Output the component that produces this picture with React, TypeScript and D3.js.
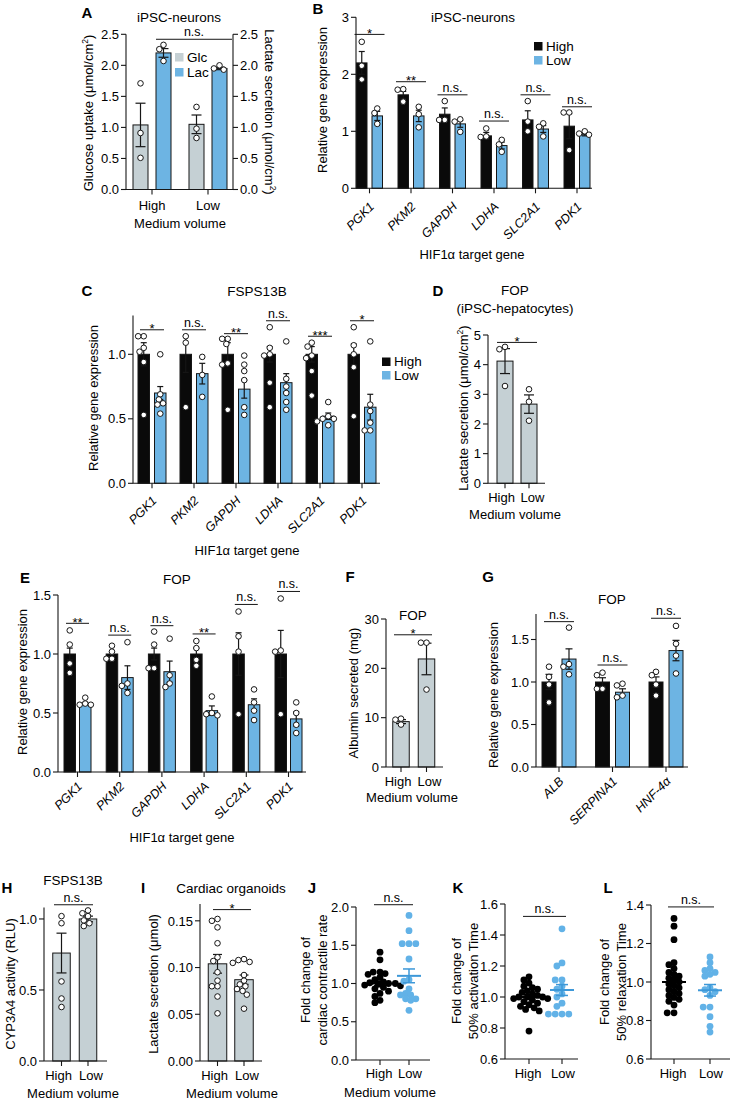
import React from "react";
import * as d3 from "d3";

type Lin = d3.ScaleLinear<number, number>;
type Band = d3.ScaleBand<string>;

const FONT = "'Liberation Sans', Arial, Helvetica, sans-serif";
const INK = "#161616";
const C_BLACK = "#0a0a0a";
const C_BLUE = "#6db4e3";
const C_GREY = "#c5d0d4";
const C_DOT_BLUE = "#62b2e7";
const C_LINE_BLUE = "#3d98d8";

// ---------- shared categories ----------
const volumes = ["High", "Low"];
const hifGenes = ["PGK1", "PKM2", "GAPDH", "LDHA", "SLC2A1", "PDK1"];
const hepGenes = ["ALB", "SERPINA1", "HNF-4α"];

// ---------- Panel A ----------
const aSeries = ["Glc", "Lac"];
const aTicks = [0, 0.5, 1, 1.5, 2, 2.5];
const aGlcMean = [1.04, 1.05];
const aGlcSem = [0.35, 0.15];
const aGlcPts = [[1.71, 0.91, 0.51], [1.33, 0.98, 0.83]];
const aLacMean = [2.2, 1.95];
const aLacSem = [0.07, 0.02];
const aLacPts = [[2.33, 2.26, 2.07], [2.0, 1.95, 1.93]];
const aSigLevel = 2.42;
const aSigLabel = "n.s.";

// ---------- Panel B ----------
const bTicks = [0, 1, 2, 3];
const bHighMean = [2.2, 1.64, 1.3, 0.92, 1.2, 1.09];
const bHighSem = [0.2, 0.06, 0.11, 0.06, 0.16, 0.22];
const bHighPts = [[2.57, 2.15, 1.91], [1.74, 1.73, 1.52], [1.53, 1.2, 1.2], [1.05, 0.91, 0.9], [1.53, 1.17, 1.0], [1.33, 1.33, 0.67]];
const bLowMean = [1.27, 1.27, 1.13, 0.75, 1.04, 0.94];
const bLowSem = [0.08, 0.1, 0.06, 0.06, 0.06, 0.02];
const bLowPts = [[1.4, 1.32, 1.13], [1.43, 1.3, 1.07], [1.21, 1.17, 0.99], [0.85, 0.77, 0.64], [1.14, 1.08, 0.91], [1.0, 0.96, 0.94]];
const bSigLevel = [2.7, 1.87, 1.64, 1.18, 1.64, 1.43];
const bSigLabel = ["*", "**", "n.s.", "n.s.", "n.s.", "n.s."];

// ---------- Panel C ----------
const cTicks = [0, 0.5, 1.0];
const cHighMean = [1.0, 1.0, 1.0, 1.0, 1.0, 1.0];
const cHighSem = [0.09, 0.14, 0.09, 0.06, 0.06, 0.08];
const cHighPts = [
  [1.14, 1.14, 1.05, 1.02, 0.94, 0.53],
  [1.14, 1.09, 0.59],
  [1.12, 1.12, 1.08, 0.93, 0.92, 0.57],
  [1.21, 1.05, 1.0, 0.99, 0.78, 0.59],
  [1.09, 1.06, 0.99, 0.97, 0.87, 0.68],
  [1.21, 1.07, 1.0, 0.9, 0.52],
];
const cLowMean = [0.7, 0.85, 0.73, 0.78, 0.52, 0.59];
const cLowSem = [0.05, 0.08, 0.07, 0.07, 0.025, 0.1];
const cLowPts = [
  [1.0, 0.69, 0.65, 0.62, 0.61, 0.54],
  [0.98, 0.84, 0.67],
  [0.99, 0.92, 0.87, 0.8, 0.59, 0.53],
  [1.1, 0.81, 0.75, 0.7, 0.63, 0.57],
  [0.63, 0.52, 0.5, 0.5, 0.48, 0.45],
  [1.1, 0.61, 0.56, 0.47, 0.41, 0.41],
];
const cSigLevel = [1.19, 1.19, 1.16, 1.26, 1.14, 1.26];
const cSigLabel = ["*", "n.s.", "**", "n.s.", "***", "*"];

// ---------- Panel D ----------
const dTicks = [0, 1, 2, 3, 4, 5];
const dMean = [4.12, 2.67];
const dSem = [0.42, 0.31];
const dPts = [[4.6, 4.52, 3.28], [3.17, 2.75, 2.11]];
const dSigLevel = 4.75;
const dSigLabel = "*";

// ---------- Panel E ----------
const eTicks = [0, 0.5, 1.0, 1.5];
const eHighMean = [1, 1, 1, 1, 1, 1];
const eHighSem = [0.05, 0.02, 0.05, 0.05, 0.18, 0.2];
const eHighPts = [[1.2, 1.08, 0.92, 0.84], [1.07, 1.02, 0.96, 0.96], [1.19, 1.08, 0.88, 0.88], [1.11, 1.05, 0.95, 0.9], [1.36, 1.15, 1.02, 0.49], [1.47, 1.03, 1.02, 0.49]];
const eLowMean = [0.58, 0.8, 0.85, 0.52, 0.57, 0.45];
const eLowSem = [0.01, 0.1, 0.09, 0.04, 0.05, 0.06];
const eLowPts = [[0.63, 0.58, 0.57, 0.57], [1.1, 0.75, 0.73, 0.67], [1.13, 0.82, 0.75, 0.72], [0.64, 0.5, 0.49, 0.48], [0.7, 0.59, 0.52, 0.44], [0.59, 0.5, 0.4, 0.33]];
const eSigLevel = [1.26, 1.16, 1.24, 1.17, 1.42, 1.53];
const eSigLabel = ["**", "n.s.", "n.s.", "**", "n.s.", "n.s."];

// ---------- Panel F ----------
const fTicks = [0, 10, 20, 30];
const fMean = [9.2, 21.9];
const fSem = [0.4, 3.2];
const fPts = [[9.8, 9.6, 8.6], [25.2, 25.2, 15.7]];
const fSigLevel = 26.8;
const fSigLabel = "*";

// ---------- Panel G ----------
const gTicks = [0, 0.5, 1.0, 1.5];
const gHighMean = [1.0, 1.0, 1.0];
const gHighSem = [0.09, 0.05, 0.06];
const gHighPts = [[1.18, 1.06, 0.97, 0.76], [1.11, 1.08, 0.92, 0.92], [1.12, 1.08, 0.97, 0.84]];
const gLowMean = [1.27, 0.88, 1.37];
const gLowSem = [0.12, 0.04, 0.12];
const gLowPts = [[1.64, 1.21, 1.18, 1.09], [0.98, 0.96, 0.84, 0.82], [1.66, 1.45, 1.31, 1.1]];
const gSigLevel = [1.71, 1.2, 1.75];
const gSigLabel = ["n.s.", "n.s.", "n.s."];

// ---------- Panel H ----------
const hTicks = [0, 0.5, 1.0];
const hMean = [0.76, 1.0];
const hSem = [0.14, 0.02];
const hPts = [[1.02, 0.97, 0.56, 0.44, 0.38], [1.06, 1.04, 1.02, 0.99, 0.97, 0.95]];
const hSigLevel = 1.1;
const hSigLabel = "n.s.";

// ---------- Panel I ----------
const iTicks = [0, 0.05, 0.1, 0.15];
const iMean = [0.104, 0.087];
const iSem = [0.01, 0.005];
const iPts = [
  [0.152, 0.15, 0.143, 0.126, 0.111, 0.107, 0.095, 0.086, 0.08, 0.08, 0.069, 0.051],
  [0.109, 0.108, 0.106, 0.105, 0.092, 0.086, 0.082, 0.08, 0.077, 0.075, 0.071, 0.056],
];
const iSigLevel = 0.162;
const iSigLabel = "*";

// ---------- Panel J ----------
const jTicks = [0, 0.5, 1.0, 1.5, 2.0];
const jHighPts = [1.41, 1.31, 1.15, 1.15, 1.13, 1.12, 1.08, 1.05, 1.02, 1.01, 1.0, 1.0, 0.99, 0.98, 0.97, 0.95, 0.93, 0.9, 0.87, 0.83, 0.78, 0.75];
const jLowPts = [1.89, 1.69, 1.52, 1.52, 1.52, 1.32, 1.05, 1.03, 0.93, 0.87, 0.85, 0.85, 0.8, 0.8, 0.78, 0.65];
const jMean = [1.0, 1.1];
const jSem = [0.03, 0.09];
const jSigLevel = 2.03;

// ---------- Panel K ----------
const kTicks = [0.6, 0.8, 1.0, 1.2, 1.4, 1.6];
const kHighPts = [1.13, 1.11, 1.09, 1.07, 1.06, 1.05, 1.04, 1.03, 1.02, 1.01, 1.0, 1.0, 1.0, 0.99, 0.99, 0.98, 0.97, 0.96, 0.95, 0.94, 0.93, 0.92, 0.91, 0.78];
const kLowPts = [1.44, 1.22, 1.2, 1.11, 1.11, 1.07, 1.05, 1.02, 1.0, 0.96, 0.94, 0.89, 0.89, 0.89, 0.89];
const kMean = [1.0, 1.045];
const kSem = [0.015, 0.035];
const kSigLevel = 1.52;

// ---------- Panel L ----------
const lTicks = [0.6, 0.8, 1.0, 1.2, 1.4];
const lHighPts = [1.33, 1.29, 1.22, 1.1, 1.09, 1.07, 1.05, 1.04, 1.03, 1.02, 1.01, 1.0, 0.99, 0.98, 0.97, 0.96, 0.95, 0.94, 0.93, 0.92, 0.91, 0.9, 0.88, 0.84, 0.84];
const lLowPts = [1.13, 1.1, 1.07, 1.06, 1.05, 1.04, 1.03, 0.97, 0.96, 0.95, 0.93, 0.87, 0.87, 0.82, 0.77, 0.74];
const lMean = [1.0, 0.957];
const lSem = [0.022, 0.03];
const lSigLevel = 1.39;

// ---------- helpers ----------
function mkBand(domain: string[], c0: number, step: number, bw: number): Band {
  const p = 1 - bw / step;
  const r0 = c0 - (step * (1 + p)) / 2;
  const r1 = r0 + step * (domain.length + p);
  return d3.scaleBand<string>().domain(domain).range([r0, r1]).paddingInner(p).paddingOuter(p).align(0.5);
}
const mid = (s: Band, k: string) => (s(k) as number) + s.bandwidth() / 2;

function swarm(vals: number[], y: Lin, r: number, gapF: number): number[] {
  const placed: [number, number][] = [];
  const offs = vals.map(() => 0);
  const order = d3.range(vals.length).sort((a, b) => d3.descending(vals[a], vals[b]));
  const step = r * 0.5;
  for (const i of order) {
    const yy = y(vals[i]);
    for (let k = 0; k < 400; k++) {
      const m = Math.ceil(k / 2) * (k % 2 ? -1 : 1);
      const xx = m * step;
      if (placed.every(([px, py]) => Math.hypot(px - xx, py - yy) >= gapF * r)) {
        offs[i] = xx;
        placed.push([xx, yy]);
        break;
      }
    }
  }
  return offs;
}

function BarMark({ cx, w, y, mean, sem, pts, fill, cap, r }: any) {
  const offs = swarm(pts, y, r, 1.9);
  const yt = y(mean + sem);
  const yb = y(mean - sem);
  return (
    <g>
      <rect x={cx - w / 2} y={y(mean)} width={w} height={y(0) - y(mean)} fill={fill} stroke={INK} strokeWidth={1} />
      <line x1={cx} x2={cx} y1={yb} y2={yt} stroke={INK} strokeWidth={1.2} />
      <line x1={cx - cap / 2} x2={cx + cap / 2} y1={yt} y2={yt} stroke={INK} strokeWidth={1.2} />
      <line x1={cx - cap / 2} x2={cx + cap / 2} y1={yb} y2={yb} stroke={INK} strokeWidth={1.2} />
      {pts.map((v: number, i: number) => (
        <circle key={i} cx={cx + offs[i]} cy={y(v)} r={r} fill="#fff" stroke={INK} strokeWidth={1} />
      ))}
    </g>
  );
}

function GroupBars({ cats, outer, inner, y, series, cap, r }: any) {
  return (
    <g>
      {cats.map((c: string, ci: number) =>
        series.map((s: any) => {
          const cx = mid(outer, c) + (inner(s.name) as number) + inner.bandwidth() / 2;
          return (
            <BarMark key={c + s.name} cx={cx} w={inner.bandwidth()} y={y} mean={s.mean[ci]} sem={s.sem[ci]}
              pts={s.pts[ci]} fill={s.fill} cap={cap} r={r} />
          );
        })
      )}
    </g>
  );
}

function SingleBars({ cats, outer, y, mean, sem, pts, fill, cap, r }: any) {
  return (
    <g>
      {cats.map((c: string, i: number) => (
        <BarMark key={c} cx={mid(outer, c)} w={outer.bandwidth()} y={y} mean={mean[i]} sem={sem[i]} pts={pts[i]}
          fill={fill} cap={cap} r={r} />
      ))}
    </g>
  );
}

function ScatterGroup({ cx, y, pts, fill, line, mean, sem }: any) {
  const r = 3.4;
  const offs = swarm(pts, y, r, 1.55);
  const yt = y(mean + sem);
  const yb = y(mean - sem);
  return (
    <g>
      {pts.map((v: number, i: number) => (
        <circle key={i} cx={cx + offs[i]} cy={y(v)} r={r} fill={fill} />
      ))}
      <line x1={cx - 12} x2={cx + 12} y1={y(mean)} y2={y(mean)} stroke={line} strokeWidth={2} />
      <line x1={cx} x2={cx} y1={yb} y2={yt} stroke={line} strokeWidth={1.5} />
      <line x1={cx - 6} x2={cx + 6} y1={yt} y2={yt} stroke={line} strokeWidth={1.5} />
      <line x1={cx - 6} x2={cx + 6} y1={yb} y2={yb} stroke={line} strokeWidth={1.5} />
    </g>
  );
}

function YAxis({ x, y, ticks, fmt, side = "left" }: any) {
  const [r0, r1] = y.range();
  const dir = side === "left" ? -1 : 1;
  return (
    <g>
      <line x1={x} x2={x} y1={r0} y2={r1} stroke={INK} strokeWidth={1.1} />
      {ticks.map((t: number) => (
        <g key={t}>
          <line x1={x} x2={x + dir * 5} y1={y(t)} y2={y(t)} stroke={INK} strokeWidth={1.1} />
          <text x={x + dir * 7} y={y(t)} dy="0.36em" textAnchor={side === "left" ? "end" : "start"} fontSize={13}>
            {fmt(t)}
          </text>
        </g>
      ))}
    </g>
  );
}

function XAxis({ x0, x1, y, ticks }: any) {
  return (
    <g>
      <line x1={x0} x2={x1} y1={y} y2={y} stroke={INK} strokeWidth={1.1} />
      {ticks.map((t: number, i: number) => (
        <line key={i} x1={t} x2={t} y1={y} y2={y + 5} stroke={INK} strokeWidth={1.1} />
      ))}
    </g>
  );
}

function Sig({ x1, x2, y, label }: any) {
  const star = label.includes("*");
  return (
    <g>
      <line x1={x1} x2={x2} y1={y} y2={y} stroke={INK} strokeWidth={1} />
      <text x={(x1 + x2) / 2} y={star ? y + 3.5 : y - 3} textAnchor="middle" fontSize={star ? 13 : 12.5}>
        {label}
      </text>
    </g>
  );
}

function RotLabels({ cats, xs, y, dy = 15 }: any) {
  return (
    <g>
      {cats.map((c: string, i: number) => (
        <text key={c} transform={`translate(${xs[i] + 5.5},${y + dy}) rotate(-45)`} textAnchor="end" fontSize={12.5}
          fontStyle="italic">
          {c}
        </text>
      ))}
    </g>
  );
}

function Letter({ x, y, t }: any) {
  return (
    <text x={x} y={y + 5.3} textAnchor="middle" fontSize={15} fontWeight="bold">
      {t}
    </text>
  );
}

function Label({ x, y, children, size = 13 }: any) {
  return (
    <text x={x} y={y + 4.6} textAnchor="middle" fontSize={size}>
      {children}
    </text>
  );
}

function VLabel({ x, y, children, rot = -90 }: any) {
  return (
    <text transform={`translate(${x},${y}) rotate(${rot})`} dy="0.36em" textAnchor="middle" fontSize={13}>
      {children}
    </text>
  );
}

function Legend({ x, y, items, gap }: any) {
  return (
    <g>
      {items.map(([name, col]: [string, string], i: number) => (
        <g key={name}>
          <rect x={x} y={y + i * gap} width={8.5} height={8.5} fill={col} />
          <text x={x + 12} y={y + i * gap + 8.8} fontSize={13.5}>
            {name}
          </text>
        </g>
      ))}
    </g>
  );
}

// High / Low labels under narrow two-bar panels, nudged apart so they do not touch
function VolLabels({ outer, y, spread = 3.5 }: any) {
  return (
    <g>
      {volumes.map((v, i) => (
        <Label key={v} x={mid(outer, v) + (i === 0 ? -spread : spread)} y={y}>{v}</Label>
      ))}
    </g>
  );
}

const Sup2 = () => (
  <>
    <tspan dy="-5" fontSize={8.5}>2</tspan>
    <tspan dy="5">)</tspan>
  </>
);

// ---------- panels ----------
function PanelA() {
  const y = d3.scaleLinear().domain([0, 2.5]).range([189.5, 34.3]);
  const outer = mkBand(volumes, 152, 56, 56);
  const inner = mkBand(aSeries, -11.5, 23, 15);
  const series = [
    { name: "Glc", fill: C_GREY, mean: aGlcMean, sem: aGlcSem, pts: aGlcPts },
    { name: "Lac", fill: C_BLUE, mean: aLacMean, sem: aLacSem, pts: aLacPts },
  ];
  const xL = 126, xR = 233;
  const f = d3.format(".1f");
  return (
    <g>
      <Letter x={87} y={13} t="A" />
      <Label x={179} y={17} size={13.5}>iPSC-neurons</Label>
      <GroupBars cats={volumes} outer={outer} inner={inner} y={y} series={series} cap={10} r={2.8} />
      <XAxis x0={xL} x1={xR} y={y(0)} ticks={volumes.map((v) => mid(outer, v))} />
      <YAxis x={xL} y={y} ticks={aTicks} fmt={f} />
      <YAxis x={xR} y={y} ticks={aTicks} fmt={f} side="right" />
      <Sig x1={156} x2={232} y={y(aSigLevel)} label={aSigLabel} />
      <Legend x={175} y={53} items={[["Glc", C_GREY], ["Lac", C_BLUE]]} gap={15} />
      <VolLabels outer={outer} y={205} spread={0} />
      <Label x={180} y={223}>Medium volume</Label>
      <VLabel x={88} y={113}>
        Glucose uptake (μmol/cm<Sup2 />
      </VLabel>
      <VLabel x={270} y={112} rot={90}>
        Lactate secretion (μmol/cm<Sup2 />
      </VLabel>
    </g>
  );
}

function PanelB() {
  const y = d3.scaleLinear().domain([0, 3]).range([188.3, 17.3]);
  const outer = mkBand(hifGenes, 369.5, 41.5, 41.5);
  const inner = mkBand(volumes, -7.75, 15.5, 10.5);
  const series = [
    { name: "High", fill: C_BLACK, mean: bHighMean, sem: bHighSem, pts: bHighPts },
    { name: "Low", fill: C_BLUE, mean: bLowMean, sem: bLowSem, pts: bLowPts },
  ];
  const xs = hifGenes.map((g) => mid(outer, g));
  return (
    <g>
      <Letter x={318} y={9} t="B" />
      <Label x={473} y={17} size={13.5}>iPSC-neurons</Label>
      <GroupBars cats={hifGenes} outer={outer} inner={inner} y={y} series={series} cap={6} r={2.8} />
      <XAxis x0={356} x1={592} y={y(0)} ticks={xs} />
      <YAxis x={356} y={y} ticks={bTicks} fmt={d3.format("d")} />
      {hifGenes.map((g, i) => (
        <Sig key={g} x1={xs[i] - 15} x2={xs[i] + 15} y={y(bSigLevel[i])} label={bSigLabel[i]} />
      ))}
      <Legend x={534} y={42} items={[["High", C_BLACK], ["Low", C_BLUE]]} gap={14} />
      <RotLabels cats={hifGenes} xs={xs} y={y(0)} dy={19} />
      <Label x={472} y={254}>HIF1α target gene</Label>
      <VLabel x={322} y={100}>Relative gene expression</VLabel>
    </g>
  );
}

function PanelC() {
  const y = d3.scaleLinear().domain([0, 1.3]).range([483.3, 315.6]);
  const outer = mkBand(hifGenes, 152, 42, 42);
  const inner = mkBand(volumes, -8.25, 16.5, 11.5);
  const series = [
    { name: "High", fill: C_BLACK, mean: cHighMean, sem: cHighSem, pts: cHighPts },
    { name: "Low", fill: C_BLUE, mean: cLowMean, sem: cLowSem, pts: cLowPts },
  ];
  const xs = hifGenes.map((g) => mid(outer, g));
  return (
    <g>
      <Letter x={87} y={291} t="C" />
      <Label x={257} y={291} size={13.5}>FSPS13B</Label>
      <GroupBars cats={hifGenes} outer={outer} inner={inner} y={y} series={series} cap={6} r={2.8} />
      <XAxis x0={133} x1={380} y={y(0)} ticks={xs} />
      <YAxis x={133} y={y} ticks={cTicks} fmt={d3.format(".1f")} />
      {hifGenes.map((g, i) => (
        <Sig key={g} x1={xs[i] - 12} x2={xs[i] + 12} y={y(cSigLevel[i])} label={cSigLabel[i]} />
      ))}
      <Legend x={382} y={357.5} items={[["High", C_BLACK], ["Low", C_BLUE]]} gap={13.5} />
      <RotLabels cats={hifGenes} xs={xs} y={y(0)} dy={18} />
      <Label x={247} y={550}>HIF1α target gene</Label>
      <VLabel x={93} y={398}>Relative gene expression</VLabel>
    </g>
  );
}

function PanelD() {
  const y = d3.scaleLinear().domain([0, 5]).range([483.3, 335]);
  const outer = mkBand(volumes, 505, 24, 16);
  return (
    <g>
      <Letter x={438} y={291} t="D" />
      <Label x={515} y={290} size={13.5}>FOP</Label>
      <Label x={515} y={308} size={13.5}>(iPSC-hepatocytes)</Label>
      <SingleBars cats={volumes} outer={outer} y={y} mean={dMean} sem={dSem} pts={dPts} fill={C_GREY} cap={10} r={2.8} />
      <XAxis x0={488} x1={545} y={y(0)} ticks={volumes.map((v) => mid(outer, v))} />
      <YAxis x={488} y={y} ticks={dTicks} fmt={d3.format("d")} />
      <Sig x1={497} x2={537} y={y(dSigLevel)} label={dSigLabel} />
      <VolLabels outer={outer} y={497} />
      <Label x={515} y={514}>Medium volume</Label>
      <VLabel x={463} y={408}>
        Lactate secretion (μmol/cm<Sup2 />
      </VLabel>
    </g>
  );
}

function PanelE() {
  const y = d3.scaleLinear().domain([0, 1.5]).range([772, 595]);
  const outer = mkBand(hifGenes, 77.5, 42.2, 42.2);
  const inner = mkBand(volumes, -7.75, 15.5, 11.5);
  const series = [
    { name: "High", fill: C_BLACK, mean: eHighMean, sem: eHighSem, pts: eHighPts },
    { name: "Low", fill: C_BLUE, mean: eLowMean, sem: eLowSem, pts: eLowPts },
  ];
  const xs = hifGenes.map((g) => mid(outer, g));
  return (
    <g>
      <Letter x={25} y={578} t="E" />
      <Label x={177} y={579} size={13.5}>FOP</Label>
      <GroupBars cats={hifGenes} outer={outer} inner={inner} y={y} series={series} cap={6} r={2.8} />
      <XAxis x0={58} x1={306} y={y(0)} ticks={xs} />
      <YAxis x={58} y={y} ticks={eTicks} fmt={d3.format(".1f")} />
      {hifGenes.map((g, i) => (
        <Sig key={g} x1={xs[i] - 11.5} x2={xs[i] + 11.5} y={y(eSigLevel[i])} label={eSigLabel[i]} />
      ))}
      <RotLabels cats={hifGenes} xs={xs} y={y(0)} dy={15} />
      <Label x={182} y={837}>HIF1α target gene</Label>
      <VLabel x={22} y={682}>Relative gene expression</VLabel>
    </g>
  );
}

function PanelF() {
  const y = d3.scaleLinear().domain([0, 30]).range([767, 619]);
  const outer = mkBand(volumes, 401, 25.5, 16.5);
  return (
    <g>
      <Letter x={350} y={577} t="F" />
      <Label x={413} y={615} size={13.5}>FOP</Label>
      <SingleBars cats={volumes} outer={outer} y={y} mean={fMean} sem={fSem} pts={fPts} fill={C_GREY} cap={10} r={2.8} />
      <XAxis x0={386} x1={443} y={y(0)} ticks={volumes.map((v) => mid(outer, v))} />
      <YAxis x={386} y={y} ticks={fTicks} fmt={d3.format("d")} />
      <Sig x1={394} x2={432} y={y(fSigLevel)} label={fSigLabel} />
      <VolLabels outer={outer} y={781} spread={3} />
      <Label x={412} y={797}>Medium volume</Label>
      <VLabel x={353} y={693}>Albumin secreted (mg)</VLabel>
    </g>
  );
}

function PanelG() {
  const y = d3.scaleLinear().domain([0, 1.8]).range([767, 614]);
  const outer = mkBand(hepGenes, 559, 53.5, 53.5);
  const inner = mkBand(volumes, -10, 20, 14);
  const series = [
    { name: "High", fill: C_BLACK, mean: gHighMean, sem: gHighSem, pts: gHighPts },
    { name: "Low", fill: C_BLUE, mean: gLowMean, sem: gLowSem, pts: gLowPts },
  ];
  const xs = hepGenes.map((g) => mid(outer, g));
  return (
    <g>
      <Letter x={488} y={577} t="G" />
      <Label x={612} y={599} size={13.5}>FOP</Label>
      <GroupBars cats={hepGenes} outer={outer} inner={inner} y={y} series={series} cap={7} r={2.8} />
      <XAxis x0={536} x1={688} y={y(0)} ticks={xs} />
      <YAxis x={536} y={y} ticks={gTicks} fmt={d3.format(".1f")} />
      {hepGenes.map((g, i) => (
        <Sig key={g} x1={xs[i] - 15} x2={xs[i] + 15} y={y(gSigLevel[i])} label={gSigLabel[i]} />
      ))}
      <RotLabels cats={hepGenes} xs={xs} y={y(0)} dy={15} />
      <VLabel x={493} y={695}>Relative gene expression</VLabel>
    </g>
  );
}

function PanelH() {
  const y = d3.scaleLinear().domain([0, 1.08]).range([1061, 907.6]);
  const outer = mkBand(volumes, 61.5, 26.5, 17.5);
  return (
    <g>
      <Letter x={7} y={888} t="H" />
      <Label x={73} y={880} size={13.5}>FSPS13B</Label>
      <SingleBars cats={volumes} outer={outer} y={y} mean={hMean} sem={hSem} pts={hPts} fill={C_GREY} cap={10} r={2.8} />
      <XAxis x0={44} x1={107} y={y(0)} ticks={volumes.map((v) => mid(outer, v))} />
      <YAxis x={44} y={y} ticks={hTicks} fmt={d3.format(".1f")} />
      <Sig x1={54} x2={93} y={y(hSigLevel)} label={hSigLabel} />
      <VolLabels outer={outer} y={1075} spread={3} />
      <Label x={73} y={1093}>Medium volume</Label>
      <VLabel x={10} y={984}>CYP3A4 activity (RLU)</VLabel>
    </g>
  );
}

function PanelI() {
  const y = d3.scaleLinear().domain([0, 0.168]).range([1061, 904]);
  const outer = mkBand(volumes, 217.5, 26.5, 18.5);
  return (
    <g>
      <Letter x={143} y={888} t="I" />
      <Label x={231} y={888} size={13.5}>Cardiac organoids</Label>
      <SingleBars cats={volumes} outer={outer} y={y} mean={iMean} sem={iSem} pts={iPts} fill={C_GREY} cap={9} r={2.8} />
      <XAxis x0={200} x1={262} y={y(0)} ticks={volumes.map((v) => mid(outer, v))} />
      <YAxis x={200} y={y} ticks={iTicks} fmt={d3.format(".2f")} />
      <Sig x1={213} x2={251} y={y(iSigLevel)} label={iSigLabel} />
      <VolLabels outer={outer} y={1075} spread={3} />
      <Label x={232} y={1093}>Medium volume</Label>
      <VLabel x={153} y={984}>Lactate secretion (μmol)</VLabel>
    </g>
  );
}

function ScatterPanel({ letter, lx, y, outer, ax0, ax1, ticks, highPts, lowPts, mean, sem, sigLevel, labelLines, labelXs, labelY, mv }: any) {
  const xs = volumes.map((v) => mid(outer, v));
  return (
    <g>
      <Letter x={lx} y={888} t={letter} />
      <ScatterGroup cx={xs[0]} y={y} pts={highPts} fill="#000" line="#000" mean={mean[0]} sem={sem[0]} />
      <ScatterGroup cx={xs[1]} y={y} pts={lowPts} fill={C_DOT_BLUE} line={C_LINE_BLUE} mean={mean[1]} sem={sem[1]} />
      <XAxis x0={ax0} x1={ax1} y={y.range()[0]} ticks={xs} />
      <YAxis x={ax0} y={y} ticks={ticks} fmt={d3.format(".1f")} />
      <Sig x1={xs[0] - 6} x2={xs[1] + 4} y={y(sigLevel)} label="n.s." />
      <VolLabels outer={outer} y={1073} spread={1} />
      {mv ? <Label x={mv} y={1092}>Medium volume</Label> : null}
      {labelLines.map((t: string, i: number) => (
        <VLabel key={t} x={labelXs[i]} y={labelY}>{t}</VLabel>
      ))}
    </g>
  );
}

export default function App() {
  const yJ = d3.scaleLinear().domain([0, 2]).range([1060, 907]);
  const yK = d3.scaleLinear().domain([0.6, 1.6]).range([1059, 904]);
  const yL = d3.scaleLinear().domain([0.6, 1.4]).range([1059, 905]);
  return (
    <svg width={731} height={1100} viewBox="0 0 731 1100" fontFamily={FONT}
      style={{ position: "absolute", left: 0, top: 0, display: "block", background: "#fff" }}>
      <rect width={731} height={1100} fill="#fff" />
      <PanelA />
      <PanelB />
      <PanelC />
      <PanelD />
      <PanelE />
      <PanelF />
      <PanelG />
      <PanelH />
      <PanelI />
      <ScatterPanel letter="J" lx={312} y={yJ} outer={mkBand(volumes, 380, 29, 29)} ax0={356} ax1={430} ticks={jTicks}
        highPts={jHighPts} lowPts={jLowPts} mean={jMean} sem={jSem} sigLevel={jSigLevel}
        labelLines={["Fold change of", "cardiac contractile rate"]} labelXs={[305, 322]} labelY={980} mv={390} />
      <ScatterPanel letter="K" lx={458} y={yK} outer={mkBand(volumes, 529, 33, 33)} ax0={505} ax1={578} ticks={kTicks}
        highPts={kHighPts} lowPts={kLowPts} mean={kMean} sem={kSem} sigLevel={kSigLevel}
        labelLines={["Fold change of", "50% activation Time"]} labelXs={[456, 473]} labelY={981} mv={0} />
      <ScatterPanel letter="L" lx={608} y={yL} outer={mkBand(volumes, 674, 36, 36)} ax0={651} ax1={730} ticks={lTicks}
        highPts={lHighPts} lowPts={lLowPts} mean={lMean} sem={lSem} sigLevel={lSigLevel}
        labelLines={["Fold change of", "50% relaxation Time"]} labelXs={[604, 621]} labelY={982} mv={0} />
    </svg>
  );
}
